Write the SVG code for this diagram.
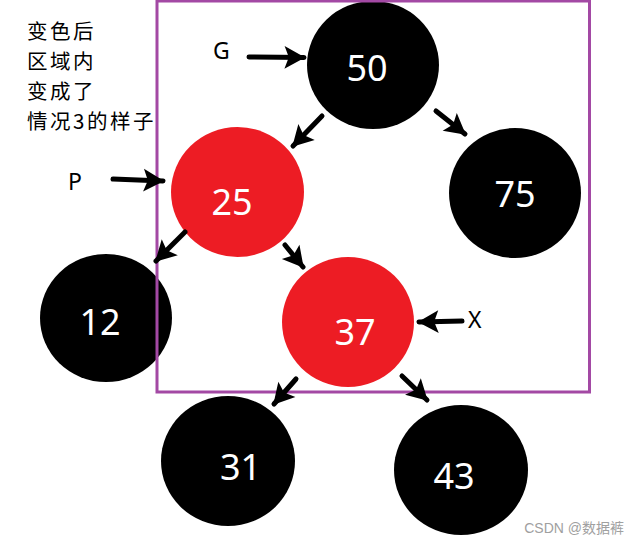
<svg xmlns="http://www.w3.org/2000/svg" width="640" height="545" viewBox="0 0 640 545">
<style>
.blk{fill:#000}
.red{fill:#ED1C24}
.num{font-family:"Noto Sans","Open Sans",sans-serif;font-size:36px;fill:#fff;text-anchor:middle}
.lbl{font-family:"Noto Sans","Open Sans",sans-serif;font-size:23px;fill:#000}
.cn{font-family:"Noto Sans CJK SC","Noto Sans",sans-serif;font-size:20.5px;letter-spacing:2.5px;fill:#000}
.arr{stroke:#000;stroke-width:5;stroke-linecap:round;fill:none;marker-end:url(#ah)}
</style>
<defs>
<marker id="ah" markerUnits="userSpaceOnUse" markerWidth="26" markerHeight="26" viewBox="-2 -12 22 24" refX="18" refY="0" orient="auto">
<path d="M0,-10.5 L19,0 L0,10.5 L4,0 Z" fill="#000"/>
</marker>
</defs>
<rect width="640" height="545" fill="#fff"/>
<g id="caption">
<text class="cn" x="27" y="39">变色后</text>
<text class="cn" x="27" y="69">区域内</text>
<text class="cn" x="27" y="99">变成了</text>
<text class="cn" x="27" y="129">情况3的样子</text>
</g>
<g id="n50"><ellipse class="blk" cx="373" cy="65" rx="66" ry="64"/><text class="num" x="367" y="81">50</text></g>
<g id="n25"><ellipse class="red" cx="237.5" cy="192" rx="66.5" ry="65"/><text class="num" x="232" y="215">25</text></g>
<g id="n75"><ellipse class="blk" cx="515" cy="193" rx="66" ry="65"/><text class="num" x="515" y="207">75</text></g>
<g id="n12"><ellipse class="blk" cx="106" cy="318" rx="66" ry="64"/><text class="num" x="100" y="335">12</text></g>
<g id="n37"><ellipse class="red" cx="348" cy="322" rx="66" ry="65"/><text class="num" x="355" y="345">37</text></g>
<g id="n31"><ellipse class="blk" cx="228" cy="461" rx="67" ry="65"/><text class="num" x="240.5" y="480">31</text></g>
<g id="n43"><ellipse class="blk" cx="461" cy="470" rx="67" ry="65"/><text class="num" x="454" y="489">43</text></g>
<g id="region"><rect x="157" y="1" width="432.5" height="391" fill="none" stroke="#A349A4" stroke-width="3"/></g>
<g id="labels">
<text class="lbl" x="213" y="59">G</text>
<text class="lbl" x="68" y="190">P</text>
<text class="lbl" x="468" y="328">X</text>
</g>
<g id="connectors">
<line class="arr" x1="249" y1="57" x2="304" y2="57.5"/>
<line class="arr" x1="113" y1="179" x2="163" y2="181"/>
<line class="arr" x1="462" y1="321" x2="419" y2="322"/>
<line class="arr" x1="322" y1="116" x2="293" y2="146"/>
<line class="arr" x1="436" y1="111" x2="465" y2="134"/>
<line class="arr" x1="185" y1="232" x2="156" y2="261"/>
<line class="arr" x1="285" y1="245" x2="303" y2="267"/>
<line class="arr" x1="296" y1="379" x2="274" y2="404"/>
<line class="arr" x1="402" y1="376" x2="427" y2="400"/>
</g>
<text x="624" y="533" text-anchor="end" font-family="'Liberation Sans','Noto Sans CJK SC',sans-serif" font-size="14" fill="#a0a0a0">CSDN @数据裤</text>
</svg>
